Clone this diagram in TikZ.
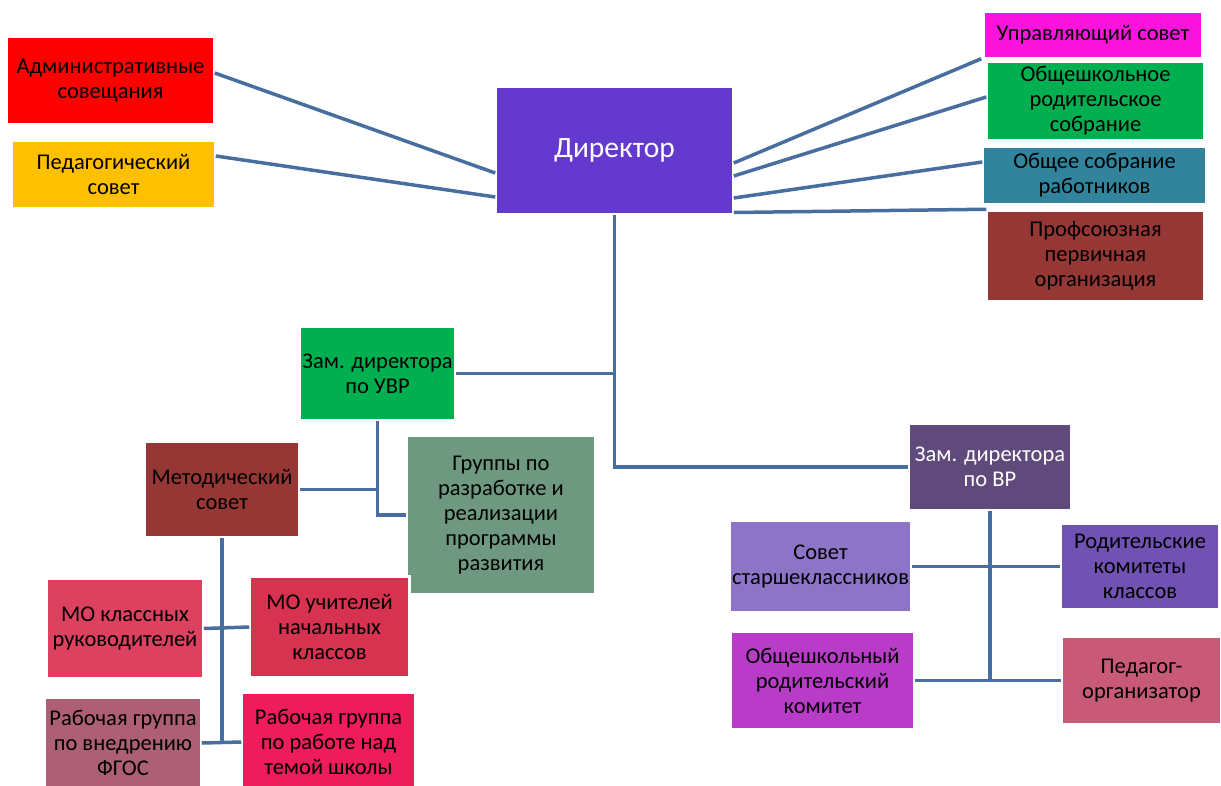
\documentclass[tikz,border=0pt]{standalone}
\usepackage{fontspec}
\setmainfont{Carlito}
\usetikzlibrary{calc}
\definecolor{cAdm}{RGB}{255,0,0}
\definecolor{cPed}{RGB}{255,192,0}
\definecolor{cDir}{RGB}{99,57,206}
\definecolor{cUpr}{RGB}{252,20,220}
\definecolor{cGreen}{RGB}{0,176,80}
\definecolor{cTeal}{RGB}{49,132,155}
\definecolor{cBrown}{RGB}{149,55,53}
\definecolor{cGrp}{RGB}{110,153,128}
\definecolor{cMoKl}{RGB}{220,65,96}
\definecolor{cMoUch}{RGB}{215,50,80}
\definecolor{cRgF}{RGB}{173,96,117}
\definecolor{cRgS}{RGB}{238,28,90}
\definecolor{cVr}{RGB}{96,74,123}
\definecolor{cSov}{RGB}{140,116,198}
\definecolor{cRod}{RGB}{112,82,178}
\definecolor{cObR}{RGB}{184,60,200}
\definecolor{cPedO}{RGB}{200,90,120}
\definecolor{cLine}{RGB}{72,110,160}
\tikzset{
  box/.style={draw=gray!30, double=white, double distance=2.5pt, line width=0.5pt,
    align=center, inner sep=0pt, text=black,
    font=\fontsize{22.5}{25}\selectfont},
  conn/.style={draw=cLine, line width=3.5pt},
}
\begin{document}
\begin{tikzpicture}[x=1pt,y=-1pt]
\useasboundingbox (0,0) rectangle (1221,785);
% top row
\node[box, fill=cAdm, minimum width=208pt, minimum height=88pt] (adm) at (110.5,80.5) {Административные\\совещания};
\node[box, fill=cPed, minimum width=204pt, minimum height=68pt] (ped) at (113.5,174.5) {Педагогический\\совет};
\node[box, fill=cDir, minimum width=238pt, minimum height=128pt, text=white, font=\fontsize{29.5}{34}\selectfont] (dir) at (614.5,150.5) {Директор};
\node[box, fill=cUpr, minimum width=219pt, minimum height=47pt] (upr) at (1093,35) {Управляющий совет};
\node[box, fill=cGreen, minimum width=218pt, minimum height=79pt] (obsh) at (1095.5,101) {Общешкольное\\родительское\\собрание};
\node[box, fill=cTeal, minimum width=224pt, minimum height=58pt] (obsob) at (1094.5,175.5) {Общее собрание\\работников};
\node[box, fill=cBrown, minimum width=218pt, minimum height=91pt] (prof) at (1095.5,256) {Профсоюзная\\первичная\\организация};
% UVR branch
\node[box, fill=cGreen, minimum width=156pt, minimum height=94pt] (uvr) at (377.5,373.5) {Зам. директора\\по УВР};
\node[box, fill=cBrown, minimum width=155pt, minimum height=96pt] (met) at (222,489.5) {Методический\\совет};
\node[box, fill=cGrp, minimum width=189pt, minimum height=159pt] (grp) at (501,515) {Группы по\\разработке и\\реализации\\программы\\развития};
\node[box, fill=cMoKl, minimum width=157pt, minimum height=100pt] (mokl) at (125,628.5) {МО классных\\руководителей};
\node[box, fill=cMoUch, minimum width=160pt, minimum height=101pt] (mouch) at (329.5,627) {МО учителей\\начальных\\классов};
\node[box, fill=cRgF, minimum width=157pt, minimum height=91pt] (rgf) at (123,743) {Рабочая группа\\по внедрению\\ФГОС};
\node[box, fill=cRgS, minimum width=174pt, minimum height=99pt] (rgs) at (328.5,742) {Рабочая группа\\по работе над\\темой школы};
% VR branch
\node[box, fill=cVr, minimum width=163pt, minimum height=87pt, text=white] (vr) at (990,467) {Зам. директора\\по ВР};
\node[box, fill=cSov, minimum width=182pt, minimum height=92pt] (sov) at (820.5,566.5) {Совет\\старшеклассников};
\node[box, fill=cRod, minimum width=159pt, minimum height=86pt] (rod) at (1140,566.5) {Родительские\\комитеты\\классов};
\node[box, fill=cObR, minimum width=184pt, minimum height=98pt] (obr) at (822.5,680.5) {Общешкольный\\родительский\\комитет};
\node[box, fill=cPedO, minimum width=160pt, minimum height=88pt] (pedo) at (1141.5,680.5) {Педагог-\\организатор};
% connectors: director to councils
\draw[conn] ([yshift=7.5pt]adm.east) -- ([yshift=-22.5pt]dir.west);
\draw[conn] ([yshift=18.5pt]ped.east) -- ([yshift=-46.5pt]dir.west);
\draw[conn] ([yshift=-12.5pt]dir.east) -- ([xshift=-2pt]upr.south west);
\draw[conn] ([yshift=-25.5pt]dir.east) -- ([yshift=4pt]obsh.west);
\draw[conn] ([yshift=-47.5pt]dir.east) -- ([yshift=13.5pt]obsob.west);
\draw[conn] ([yshift=-62pt]dir.east) -- ([yshift=1pt]prof.north west);
% trunk
\coordinate (j1) at (dir.south |- uvr.east);
\draw[conn] (dir.south) |- (vr.west);
\draw[conn] (j1) -- (uvr.east);
% UVR
\coordinate (j2) at (uvr.south |- met.east);
\draw[conn] (uvr.south) |- (grp.west);
\draw[conn] (met.east) -- (j2);
% Met
\coordinate (j3) at (met.south |- rgf.east);
\draw[conn] (met.south) -- (j3);
\draw[conn] (mokl.east) -- (mouch.west);
\draw[conn] (rgf.east) -- (rgs.west);
% VR
\coordinate (j4) at (vr.south |- obr.east);
\draw[conn] (vr.south) -- (j4);
\draw[conn] (sov.east) -- (rod.west);
\draw[conn] (obr.east) -- (pedo.west);
\end{tikzpicture}
\end{document}
